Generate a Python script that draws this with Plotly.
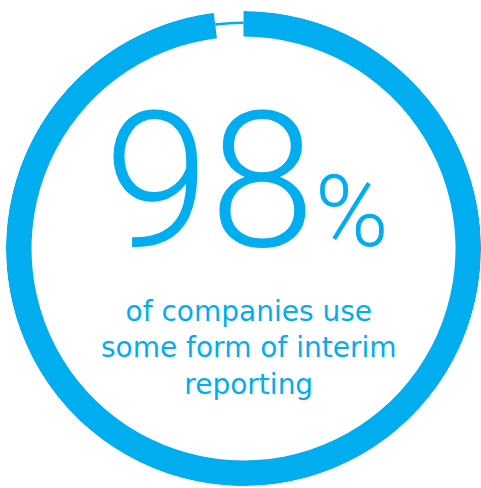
import plotly.graph_objects as go

# Data
labels = ["Use interim reporting", "Do not"]
shares = [98, 2]          # percent
headline = "98"
caption_lines = ["of companies use", "some form of interim", "reporting"]

BLUE = "#00AEEF"
W, H = 481, 488

# geometry (radial units == pixels, radius 237.5)
R_OUT = 237.5
THICK_BASE, THICK_W = 212.0, 25.5
THIN_BASE, THIN_W = 224.5, 2.5

# angles from shares (clockwise from top)
a0 = shares[0] / 100 * 360
a1 = shares[1] / 100 * 360

fig = go.Figure()
fig.add_trace(go.Barpolar(
    name=labels[0], theta=[a0 / 2], width=[a0], r=[THICK_W], base=[THICK_BASE],
    marker=dict(color=BLUE, line=dict(width=0)), hoverinfo="skip", showlegend=False,
))
fig.add_trace(go.Barpolar(
    name=labels[1], theta=[a0 + a1 / 2], width=[a1], r=[THIN_W], base=[THIN_BASE],
    marker=dict(color=BLUE, line=dict(width=0)), hoverinfo="skip", showlegend=False,
))

fig.update_layout(
    width=W, height=H,
    margin=dict(l=0, r=0, t=0, b=0),
    paper_bgcolor="white", plot_bgcolor="white",
    polar=dict(
        domain=dict(x=[6 / W, 1], y=[2 / H, 477 / H]),
        bgcolor="white",
        radialaxis=dict(range=[0, R_OUT], visible=False, showgrid=False),
        angularaxis=dict(rotation=90, direction="clockwise", visible=False, showgrid=False),
        bargap=0,
    ),
    annotations=[
        dict(
            text=f"{headline}<span style='font-size:100px'>%</span>",
            x=246 / W, y=1 - 181 / H, xref="paper", yref="paper",
            xanchor="center", yanchor="middle", showarrow=False,
            font=dict(family="Roboto", size=190, color=BLUE, weight=300),
        ),
        dict(
            text="<br>".join(caption_lines),
            x=249 / W, y=1 - 348 / H, xref="paper", yref="paper",
            xanchor="center", yanchor="middle", showarrow=False,
            font=dict(family="DejaVu Sans", size=28, color=BLUE),
        ),
    ],
)

fig.write_html("out.html")
